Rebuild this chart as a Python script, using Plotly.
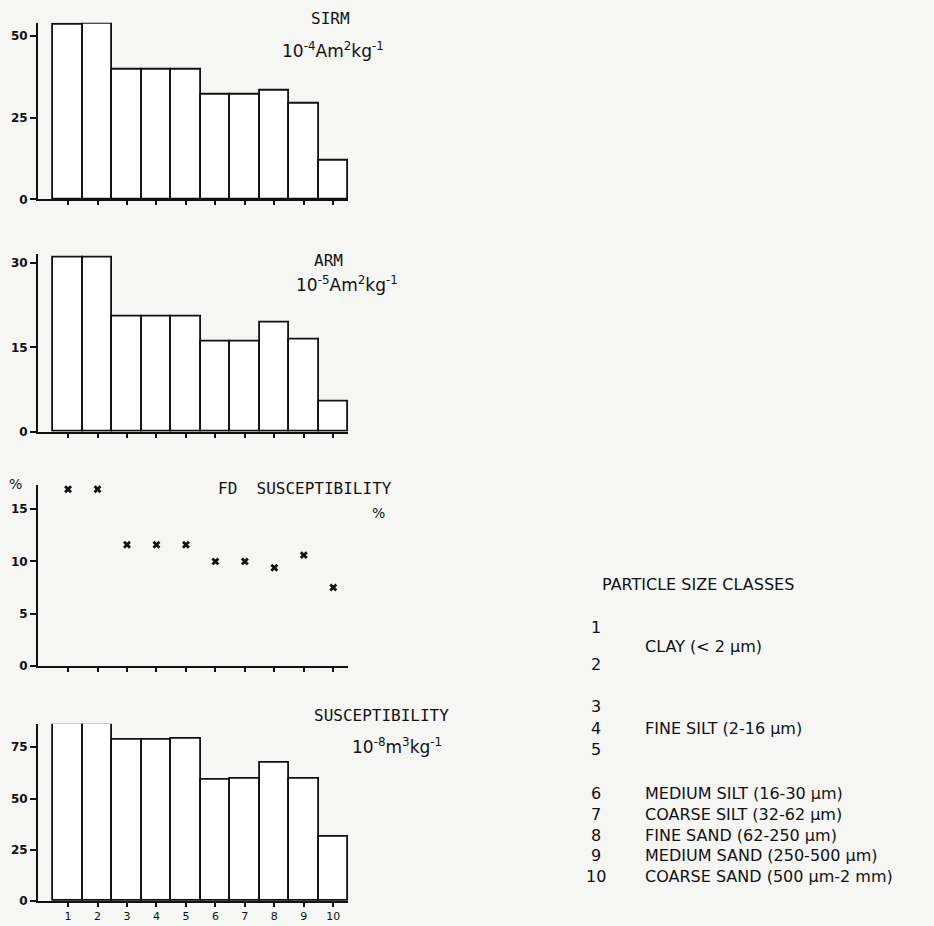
import plotly.graph_objects as go

# ---------------- data ----------------
classes = [1, 2, 3, 4, 5, 6, 7, 8, 9, 10]
sirm = [53.3, 53.7, 39.8, 39.8, 39.8, 31.9, 31.9, 33.2, 29.4, 12.0]
arm = [31.0, 31.0, 20.5, 20.5, 20.5, 16.0, 16.0, 19.5, 16.4, 5.4]
fd_susc = [16.9, 16.9, 11.6, 11.6, 11.6, 10.0, 10.0, 9.4, 10.6, 7.5]
susc = [86.3, 86.6, 78.5, 78.5, 79.3, 59.3, 59.6, 67.5, 59.8, 31.4]

sirm_ticks = [0, 25, 50]
arm_ticks = [0, 15, 30]
fd_ticks = [0, 5, 10, 15]
susc_ticks = [0, 25, 50, 75]

legend_numbers = ["1", "2", "3", "4", "5", "6", "7", "8", "9", "10"]
legend_labels = [
    ("1.5", "CLAY (< 2 µm)"),
    ("4", "FINE SILT (2-16 µm)"),
    ("6", "MEDIUM SILT (16-30 µm)"),
    ("7", "COARSE SILT (32-62 µm)"),
    ("8", "FINE SAND (62-250 µm)"),
    ("9", "MEDIUM SAND (250-500 µm)"),
    ("10", "COARSE SAND (500 µm-2 mm)"),
]

# ---------------- layout helpers ----------------
W, H = 934, 926


def px(x):
    return x / W


def py(y):
    return 1 - y / H


BG = "#f6f6f4"
INK = "#111111"

fig = go.Figure()

# panel pixel geometry: (zero_y, top_y, y_range_max)
panels = [
    (201, 22.8, 54.0),
    (435, 256.4, 31.5),
    (671, 488.8, 17.3),
    (908, 729.2, 86.5),
]
tickvals = [sirm_ticks, arm_ticks, fd_ticks, susc_ticks]
x_left, x_right = 38, 348

for i, (zero_y, top_y, ymax) in enumerate(panels):
    n = "" if i == 0 else str(i + 1)
    fig.layout["xaxis" + n] = dict(
        domain=[px(x_left), px(x_right)],
        range=[-0.02, 10.5],
        anchor="y" + n,
        showline=True, linecolor=INK, linewidth=1.8,
        showgrid=False, zeroline=False,
        tickmode="array", tickvals=classes,
        ticktext=[str(c) for c in classes],
        ticks="outside", ticklen=4, tickwidth=1.8, tickcolor=INK,
        showticklabels=(i == 3),
        tickfont=dict(family="DejaVu Sans", size=11, color=INK),
    )
    fig.layout["yaxis" + n] = dict(
        domain=[py(zero_y), py(top_y)],
        range=[0, ymax],
        anchor="x" + n,
        showline=True, linecolor=INK, linewidth=1.8,
        showgrid=False, zeroline=False,
        tickmode="array", tickvals=tickvals[i],
        ticks="outside", ticklen=6, tickwidth=1.8, tickcolor=INK,
        tickfont=dict(family="DejaVu Sans", size=12, color=INK, weight="bold"),
    )

bar_style = dict(marker=dict(color="white", line=dict(color=INK, width=1.8)),
                 width=1.0, showlegend=False, hoverinfo="skip", cliponaxis=False)

fig.add_trace(go.Bar(x=classes, y=sirm, xaxis="x", yaxis="y", **bar_style))
fig.add_trace(go.Bar(x=classes, y=arm, xaxis="x2", yaxis="y2", **bar_style))
fig.add_trace(go.Scatter(
    x=classes, y=fd_susc, xaxis="x3", yaxis="y3", mode="markers",
    marker=dict(symbol="x", size=7, color=INK, line=dict(width=0)),
    showlegend=False, hoverinfo="skip", cliponaxis=False))
fig.add_trace(go.Bar(x=classes, y=susc, xaxis="x4", yaxis="y4", **bar_style))

ann = []


def text(x, y, s, family, size, xanchor="center"):
    ann.append(dict(x=px(x), y=py(y), xref="paper", yref="paper", text=s,
                    showarrow=False,
                    font=dict(family=family, size=size, color=INK),
                    xanchor=xanchor, yanchor="middle"))


MONO = "DejaVu Sans Mono"
SANS = "DejaVu Sans"

text(330, 19, "SIRM", MONO, 16)
text(333, 50, "10<sup>-4</sup>Am<sup>2</sup>kg<sup>-1</sup>", SANS, 17)
text(328, 262, "ARM", MONO, 16)
text(347, 286, "10<sup>-5</sup>Am<sup>2</sup>kg<sup>-1</sup>", SANS, 17)
text(216, 492, "FD  SUSCEPTIBILITY", MONO, 16, xanchor="left")
text(378, 517, "%", SANS, 14)
text(15, 488, "%", SANS, 14)
text(312, 721, "SUSCEPTIBILITY", MONO, 16, xanchor="left")
text(350, 752, "10<sup>-8</sup>m<sup>3</sup>kg<sup>-1</sup>", SANS, 17, xanchor="left")

# legend block
text(600, 589, "PARTICLE SIZE CLASSES", SANS, 16, xanchor="left")
num_y = [632, 670, 712, 734, 755, 800, 821, 842, 862, 883]
for lab, yy in zip(legend_numbers, num_y):
    text(596, yy, lab, SANS, 16)
desc_y = {"1.5": 651, "4": 734, "6": 800, "7": 821, "8": 842, "9": 862, "10": 883}
for key, lab in legend_labels:
    text(643, desc_y[key], lab, SANS, 16, xanchor="left")

fig.update_layout(
    width=W, height=H,
    margin=dict(l=0, r=0, t=0, b=0),
    font=dict(family=SANS, size=12, color=INK),
    paper_bgcolor=BG, plot_bgcolor="rgba(0,0,0,0)",
    annotations=ann, bargap=0,
)

fig.write_html("out.html")
